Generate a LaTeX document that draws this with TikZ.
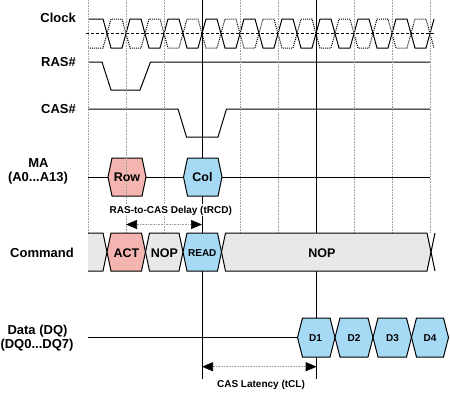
\documentclass[tikz,border=0pt]{standalone}
\usepackage{fontspec}
\setmainfont{Liberation Sans}
\usetikzlibrary{arrows.meta}
\definecolor{pinkf}{HTML}{F4B4B0}
\definecolor{bluef}{HTML}{A6DAF4}
\definecolor{grayf}{HTML}{E8E8E8}
\definecolor{gridc}{HTML}{A0A0A0}
% fill, x1, x2, ytop, ybot, inset
\newcommand\hexshape[6]{%
  \filldraw[fill=#1, hexline] (#2,{(#4+#5)/2}) -- (#2+#6,#4) -- (#3-#6,#4) -- (#3,{(#4+#5)/2}) -- (#3-#6,#5) -- (#2+#6,#5) -- cycle;}
\tikzset{
  sig/.style={line width=1pt, line join=miter},
  hexline/.style={line width=1pt, line join=miter},
  gridline/.style={gridc, densely dotted, line width=0.6pt},
  marker/.style={line width=0.8pt},
  lbl/.style={font=\bfseries\fontsize{13}{13}\selectfont, inner sep=0pt, text height=9.3pt, text depth=0pt},
  hexlbl/.style={font=\bfseries\fontsize{12.5}{12.5}\selectfont, inner sep=0pt, text height=9pt, text depth=0pt},
  smlbl/.style={font=\bfseries\fontsize{10}{10}\selectfont, inner sep=0pt, text height=7.2pt, text depth=0pt},
  dim/.style={gridc, densely dotted, line width=0.6pt,
    {Triangle[length=11pt,width=9pt,color=black]}-{Triangle[length=11pt,width=9pt,color=black]}},
}
\begin{document}
\begin{tikzpicture}[x=1pt,y=-1pt]
\useasboundingbox (0,0) rectangle (450,394);
% solid markers
\draw[marker] (202,0) -- (202,379);
\draw[marker] (316.7,0) -- (316.7,379);
% left labels
\node[lbl, anchor=east] (lclk) at (76,17.5) {Clock};
\node[lbl, anchor=east] (lras) at (76,62) {RAS\#};
\node[lbl, anchor=east] (lcas) at (76,109) {CAS\#};
\node[lbl] (lma) at (38.5,163) {MA};
\node[lbl] (lma2) at (38,177) {(A0...A13)};
\node[lbl] (lcmd) at (42,252.5) {Command};
\node[lbl] (ldq) at (37.5,329.5) {Data (DQ)};
\node[lbl] (ldq2) at (37,343.5) {(DQ0...DQ7)};
% clock
\draw[densely dashed, line width=0.7pt] (86,33.5) -- (435,33.5);
\draw[sig] (88,19) \foreach \k [evaluate=\k as \c using {107+19*\k}, evaluate=\k as \ya using {ifthenelse(mod(\k,2)==0,19,48)}, evaluate=\k as \yb using {ifthenelse(mod(\k,2)==0,48,19)}] in {0,...,17} { -- (\c-4,\ya) -- (\c+4,\yb) };
\draw[line width=1pt, densely dotted] (88,48) \foreach \k [evaluate=\k as \c using {107+19*\k}, evaluate=\k as \ya using {ifthenelse(mod(\k,2)==0,48,19)}, evaluate=\k as \yb using {ifthenelse(mod(\k,2)==0,19,48)}] in {0,...,17} { -- (\c-4,\ya) -- (\c+4,\yb) };
% RAS, CAS
\draw[sig] (88,62) -- (102,62) -- (111,90) -- (140,90) -- (150.5,62) -- (430,62);
\draw[sig] (88,109) -- (178,109) -- (186.5,137) -- (218,137) -- (226.5,109) -- (430,109);
% MA
\draw[sig] (88,177) -- (430,177);
\hexshape{pinkf}{108}{146}{158}{196}{4}
\hexshape{bluef}{183.5}{222}{158}{196}{4}
\node[hexlbl] (row) at (127,177) {Row};
\node[hexlbl] (col) at (202.5,177) {Col};
% grid
\foreach \gx in {88,126,164,240,278,354,392,430} \draw[gridline] (\gx,0) -- (\gx,233);
% tRCD
\node[smlbl, fill=white, inner xsep=0.5pt, inner ysep=2.5pt] (trcd) at (170.8,210) {RAS-to-CAS Delay (tRCD)};
\coordinate (rcdA) at (126,224.5);
\coordinate (rcdB) at (202,224.5);
\draw[dim] (rcdA) -- (rcdB);
% Command
\filldraw[fill=grayf, draw=none] (88,233) -- (103,233) -- (107,252) -- (103,271) -- (88,271) -- cycle;
\draw[hexline] (88,233) -- (103,233) -- (107,252) -- (103,271) -- (88,271);
\hexshape{pinkf}{107}{145.5}{233}{271}{4}
\hexshape{grayf}{145.5}{183}{233}{271}{4}
\hexshape{bluef}{183}{221.5}{233}{271}{4}
\hexshape{grayf}{221.5}{431}{233}{271}{4}
\draw[hexline] (431,252) -- (435,233);
\draw[hexline] (431,252) -- (435,271);
\node[hexlbl] (act) at (126.5,252.5) {ACT};
\node[hexlbl] (nop1) at (164.3,252.5) {NOP};
\node[smlbl] (read) at (202.3,252.5) {READ};
\node[hexlbl] (nop2) at (322,252.5) {NOP};
% Data
\draw[sig] (88,337.5) -- (297.5,337.5);
\hexshape{bluef}{297.5}{335}{318}{357}{5}
\hexshape{bluef}{335}{373}{318}{357}{5}
\hexshape{bluef}{373}{411.5}{318}{357}{5}
\hexshape{bluef}{411.5}{448.5}{318}{357}{5}
\node[smlbl] (d1) at (315.5,337.5) {D1};
\node[smlbl] (d2) at (354,337.5) {D2};
\node[smlbl] (d3) at (392.5,337.5) {D3};
\node[smlbl] (d4) at (430,337.5) {D4};
% tCL
\coordinate (clA) at (202,366.7);
\coordinate (clB) at (316.7,366.7);
\draw[dim] (clA) -- (clB);
\node[smlbl] (tcl) at (261,384.3) {CAS Latency (tCL)};
\end{tikzpicture}
\end{document}
